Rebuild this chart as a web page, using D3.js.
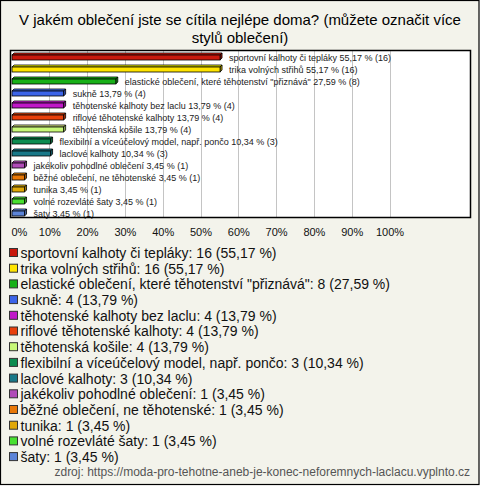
<!DOCTYPE html>
<html><head><meta charset="utf-8">
<script src="https://cdn.jsdelivr.net/npm/d3@7"></script>
<style>body{margin:0;background:#fff}svg{display:block}</style>
</head><body>
<svg id="c" width="480" height="492"></svg>
<script>
const titleLines = ["V jakém oblečení jste se cítila nejlépe doma? (můžete označit více", "stylů oblečení)"];
const categories = [
  "sportovní kalhoty či tepláky",
  "trika volných střihů",
  "elastické oblečení, které těhotenství \"přiznává\"",
  "sukně",
  "těhotenské kalhoty bez laclu",
  "riflové těhotenské kalhoty",
  "těhotenská košile",
  "flexibilní a víceúčelový model, např. pončo",
  "laclové kalhoty",
  "jakékoliv pohodlné oblečení",
  "běžné oblečení, ne těhotenské",
  "tunika",
  "volné rozevláté šaty",
  "šaty"
];
const counts = [16, 16, 8, 4, 4, 4, 4, 3, 3, 1, 1, 1, 1, 1];
const percents = [55.17, 55.17, 27.59, 13.79, 13.79, 13.79, 13.79, 10.34, 10.34, 3.45, 3.45, 3.45, 3.45, 3.45];
const colors = ["#c8180c", "#ffe400", "#18b018", "#3c64e8", "#c018c8", "#e8400c", "#c8f878", "#0c8c50", "#187888", "#b04cb8", "#e87808", "#e0a808", "#48e030", "#5c84d8"];
const ticks = [0, 10, 20, 30, 40, 50, 60, 70, 80, 90, 100];
const source = "zdroj: https://moda-pro-tehotne-aneb-je-konec-neforemnych-laclacu.vyplnto.cz";

const svg = d3.select("#c");
const font = "'Liberation Sans', Arial, sans-serif";
svg.append("rect").attr("x", 0.5).attr("y", 0.5).attr("width", 478.5).attr("height", 484)
  .attr("fill", "#f3f3eb").attr("stroke", "#000").attr("stroke-width", 1.2);

svg.append("g").selectAll("text").data(titleLines).join("text")
  .attr("x", 240).attr("y", (d, i) => 25 + i * 18)
  .attr("text-anchor", "middle").attr("font-family", font).attr("font-size", 15).attr("fill", "#000")
  .text(d => d);

const pl = 10.5, pt = 50.5, pr = 470.5, pb = 217.5;
svg.append("rect").attr("x", pl).attr("y", pt).attr("width", pr - pl).attr("height", pb - pt)
  .attr("fill", "#fff");

const x = d3.scaleLinear().domain([0, 100]).range([11.5, 389.5]);
const y = d3.scaleBand().domain(categories).range([50, 218]).paddingInner(0).paddingOuter(0);

svg.append("g").selectAll("line").data(ticks.filter(t => t > 0)).join("line")
  .attr("x1", d => Math.round(x(d)) + 0.5).attr("x2", d => Math.round(x(d)) + 0.5)
  .attr("y1", pt).attr("y2", pb).attr("stroke", "#c4c4c4").attr("stroke-width", 1);

const bh = 5, dd = 2;
const bars = svg.append("g").selectAll("g").data(categories).join("g")
  .attr("transform", (d, i) => `translate(0,${y(d) + y.bandwidth() / 2 - 1})`);
bars.each(function(d, i) {
  const g = d3.select(this);
  const x0 = x(0) + 0.5, x1 = x(percents[i]);
  const c = d3.color(colors[i]);
  g.append("polygon")
    .attr("points", `${x0},${0} ${x0 + dd},${-dd} ${x1 + dd},${-dd} ${x1},${0}`)
    .attr("fill", c.brighter(0.5)).attr("stroke", "#000").attr("stroke-width", 0.8);
  g.append("polygon")
    .attr("points", `${x1},${0} ${x1 + dd},${-dd} ${x1 + dd},${bh - dd} ${x1},${bh}`)
    .attr("fill", c.darker(0.8)).attr("stroke", "#000").attr("stroke-width", 0.8);
  g.append("rect").attr("x", x0).attr("y", 0).attr("width", x1 - x0).attr("height", bh)
    .attr("fill", c).attr("stroke", "#000").attr("stroke-width", 0.8);
  g.append("text").attr("x", x1 + 9).attr("y", 2.5).attr("dy", "0.35em")
    .attr("font-family", font).attr("font-size", 9).attr("fill", "#222")
    .text(`${d} ${percents[i].toFixed(2).replace(".", ",")} % (${counts[i]})`);
});

svg.append("rect").attr("x", pl).attr("y", pt).attr("width", pr - pl).attr("height", pb - pt)
  .attr("fill", "none").attr("stroke", "#000").attr("stroke-width", 1.5);

const axis = d3.axisBottom(x).tickValues(ticks).tickFormat(d => d + "%").tickSize(0).tickPadding(0);
const ag = svg.append("g").attr("transform", "translate(0,228)").call(axis);
ag.select(".domain").remove();
ag.selectAll("text").attr("font-family", font).attr("font-size", 11).attr("fill", "#111")
  .attr("text-anchor", d => d === 0 ? "start" : "middle")
  .attr("x", d => d === 0 ? -0.5 : 0);

const leg = svg.append("g").selectAll("g").data(categories).join("g")
  .attr("transform", (d, i) => `translate(0,${253 + i * 15.7})`);
leg.append("rect").attr("x", 9.5).attr("y", -4.5).attr("width", 8).attr("height", 8)
  .attr("fill", (d, i) => colors[i]).attr("stroke", "#333").attr("stroke-width", 1);
leg.append("text").attr("x", 20.5).attr("y", 0).attr("dy", "0.35em")
  .attr("font-family", font).attr("font-size", 14).attr("fill", "#111")
  .text((d, i) => `${d}: ${counts[i]} (${percents[i].toFixed(2).replace(".", ",")} %)`);

svg.append("text").attr("x", 470).attr("y", 476).attr("text-anchor", "end")
  .attr("font-family", font).attr("font-size", 12).attr("fill", "#555").text(source);
</script>
</body></html>
